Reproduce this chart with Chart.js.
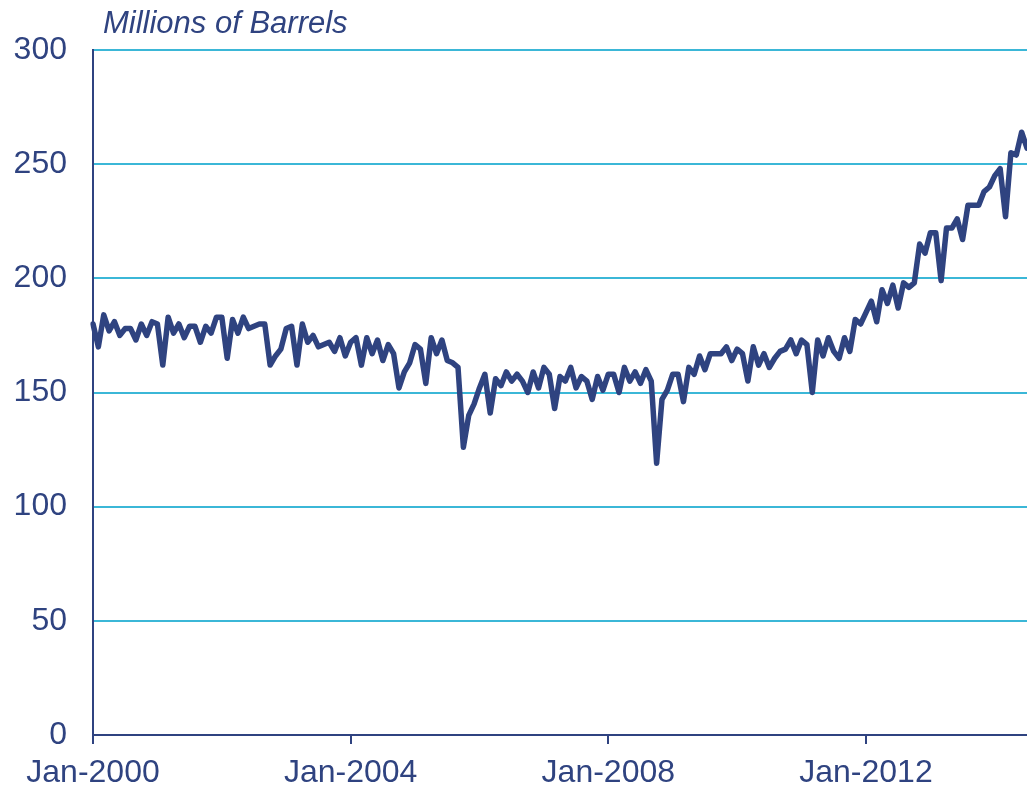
<!DOCTYPE html>
<html lang="en">
<head>
<meta charset="UTF-8">
<meta name="viewport" content="width=device-width, initial-scale=1.0">
<title>Millions of Barrels</title>
<script src="https://cdn.jsdelivr.net/npm/chart.js"></script>
<style>
  html, body { margin: 0; padding: 0; background: #fff; }
  #wrap { width: 1027px; height: 786px; position: relative; }
</style>
</head>
<body>
<div id="wrap"><canvas id="chartCanvas"></canvas></div>
<script>
// monthly values, Jan-2000 .. Jul-2014
const startYear = 2000;
const monthNames = ['Jan', 'Feb', 'Mar', 'Apr', 'May', 'Jun', 'Jul', 'Aug', 'Sep', 'Oct', 'Nov', 'Dec'];
const barrels = [
  180, 170, 184, 177, 181, 175, 178, 178, 173, 180, 175, 181,   // 2000
  180, 162, 183, 176, 180, 174, 179, 179, 172, 179, 176, 183,   // 2001
  183, 165, 182, 176, 183, 178, 179, 180, 180, 162, 166, 169,   // 2002
  178, 179, 162, 180, 172, 175, 170, 171, 172, 168, 174, 166,   // 2003
  172, 174, 162, 174, 167, 173, 164, 171, 167, 152, 159, 163,   // 2004
  171, 169, 154, 174, 167, 173, 164, 163, 161, 126, 140, 145,   // 2005
  152, 158, 141, 156, 153, 159, 155, 158, 155, 150, 159, 152,   // 2006
  161, 158, 143, 157, 155, 161, 152, 157, 155, 147, 157, 151,   // 2007
  158, 158, 150, 161, 155, 159, 154, 160, 155, 119, 147, 151,   // 2008
  158, 158, 146, 161, 158, 166, 160, 167, 167, 167, 170, 164,   // 2009
  169, 167, 155, 170, 162, 167, 161, 165, 168, 169, 173, 167,   // 2010
  173, 171, 150, 173, 166, 174, 168, 165, 174, 168, 182, 180,   // 2011
  185, 190, 181, 195, 189, 197, 187, 198, 196, 198, 215, 211,   // 2012
  220, 220, 199, 222, 222, 226, 217, 232, 232, 232, 238, 240,   // 2013
  245, 248, 227, 255, 254, 264, 257                             // 2014
];
const xTickLabels = ['Jan-2000', 'Jan-2004', 'Jan-2008', 'Jan-2012'];
const yTickValues = [0, 50, 100, 150, 200, 250, 300];
const unitLabel = 'Millions of Barrels';

const navy = '#2f4380';
const cyan = '#3bb7d7';
const fontFamily = '"Liberation Sans", Arial, sans-serif';

const labels = barrels.map((v, i) => monthNames[i % 12] + '-' + (startYear + Math.floor(i / 12)));

// unit text above the plot
const unitTitle = {
  id: 'unitTitle',
  afterDraw(chart) {
    const ctx = chart.ctx;
    ctx.save();
    ctx.font = 'italic 31px ' + fontFamily;
    ctx.fillStyle = navy;
    ctx.textBaseline = 'alphabetic';
    ctx.fillText(unitLabel, chart.chartArea.left + 10, 33);
    ctx.restore();
  }
};

new Chart(document.getElementById('chartCanvas'), {
  type: 'line',
  data: {
    labels: labels,
    datasets: [{
      data: barrels,
      borderColor: navy,
      borderWidth: 5.5,
      borderJoinStyle: 'round',
      borderCapStyle: 'round',
      pointRadius: 0,
      tension: 0,
      fill: false
    }]
  },
  options: {
    responsive: true,
    maintainAspectRatio: false,
    animation: false,
    layout: { padding: { top: 50, left: 0, right: 0, bottom: 0 } },
    plugins: {
      legend: { display: false },
      tooltip: { enabled: false }
    },
    scales: {
      x: {
        type: 'category',
        offset: false,
        afterBuildTicks: scale => {
          scale.ticks = scale.ticks.filter(t => xTickLabels.includes(labels[t.value]));
        },
        afterFit: scale => { scale.height = 51; },
        ticks: {
          autoSkip: false,
          maxRotation: 0,
          color: navy,
          padding: 10,
          font: { size: 32, family: fontFamily },
          callback: v => labels[v]
        },
        grid: { drawOnChartArea: false, drawTicks: true, tickLength: 9, color: navy, lineWidth: 2 },
        border: { color: navy, width: 2 }
      },
      y: {
        min: 0,
        max: 300,
        afterBuildTicks: scale => {
          scale.ticks = yTickValues.map(v => ({ value: v }));
        },
        afterFit: scale => { scale.width = 93; },
        ticks: {
          color: navy,
          padding: 26,
          font: { size: 32, family: fontFamily }
        },
        grid: { color: cyan, lineWidth: 2, drawTicks: false },
        border: { color: navy, width: 2 }
      }
    }
  },
  plugins: [unitTitle]
});
</script>
</body>
</html>
